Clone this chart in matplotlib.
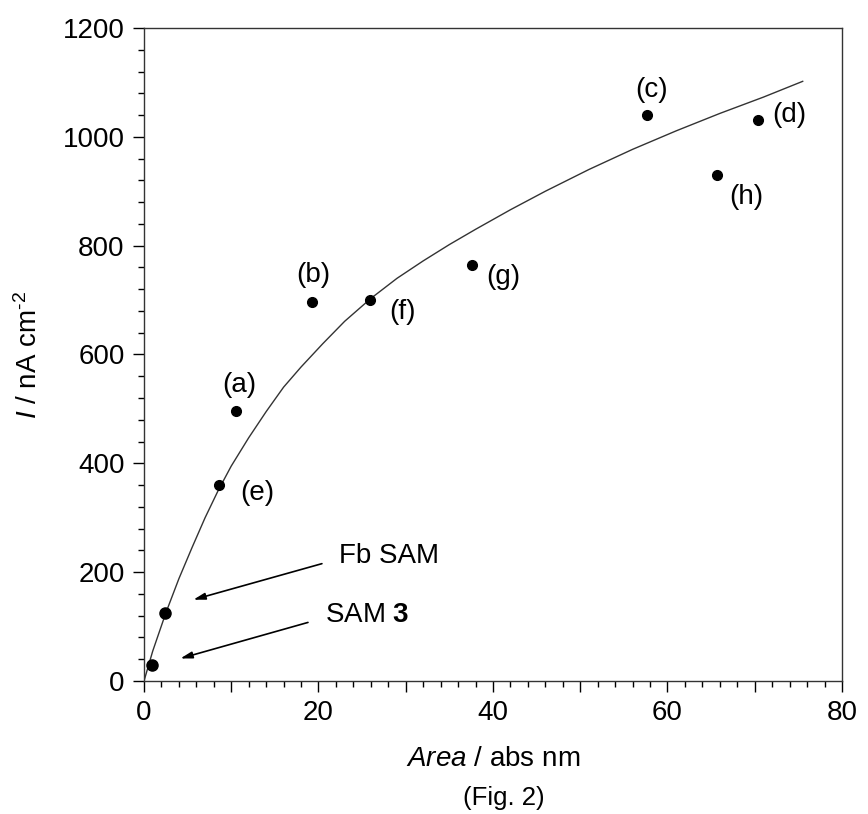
import matplotlib
matplotlib.use('Agg')
import matplotlib.pyplot as plt
from matplotlib.ticker import MultipleLocator, FuncFormatter

plt.rcParams['font.family'] = ['Liberation Sans', 'DejaVu Sans']
plt.rcParams['mathtext.fontset'] = 'custom'
plt.rcParams['mathtext.rm'] = 'Liberation Sans'
plt.rcParams['mathtext.it'] = 'Liberation Sans:italic'
plt.rcParams['mathtext.bf'] = 'Liberation Sans:bold'

# measured points
area = [10.6, 19.3, 57.6, 70.4, 8.6, 25.9, 37.6, 65.7]
current = [497, 697, 1040, 1031, 360, 700, 764, 930]
names = ['(a)', '(b)', '(c)', '(d)', '(e)', '(f)', '(g)', '(h)']
# label offsets in pixels (right, up)
offsets = [(3, 26), (1, 27), (5, 25), (31, 5), (38, -8), (33, -12), (31, -12), (29, -22)]

# SAM points
sam_area = [0.9, 2.4]
sam_current = [29, 125]

# fitted curve
fit_area = [0, 1, 2.5, 4, 5.5, 7, 8.5, 10, 12, 14, 16, 18, 20.5, 23, 26, 29, 32,
            35, 38, 42, 46, 51, 56, 61, 66, 71, 75.5]
fit_current = [0, 55, 125, 188, 245, 300, 350, 395, 447, 495, 540, 577, 620, 661, 703,
               740, 772, 802, 830, 866, 900, 940, 977, 1011, 1043, 1073, 1102]

fig = plt.figure(figsize=(8.68, 8.14), dpi=100)
ax = fig.add_axes([0.1659, 0.1634, 0.8041, 0.8022])

ax.plot(fit_area, fit_current, '-', color='#333333', lw=1)
ax.plot(area, current, 'o', color='black', markersize=7)
ax.plot(sam_area, sam_current, 'o', color='black', markersize=8)

for x, y, s, off in zip(area, current, names, offsets):
    ax.annotate(s, (x, y), xytext=off, textcoords='offset pixels',
                ha='center', va='center', fontsize=20)

ax.annotate('', xy=(5.35, 148), xytext=(20.7, 217),
            arrowprops=dict(arrowstyle='-|>,head_length=0.7,head_width=0.2', color='black', lw=1.2))
ax.text(22.3, 229, 'Fb SAM', fontsize=20, ha='left', va='center')
ax.annotate('', xy=(3.86, 40), xytext=(19.1, 109),
            arrowprops=dict(arrowstyle='-|>,head_length=0.7,head_width=0.2', color='black', lw=1.2))
ax.text(20.7, 121, r'SAM $\mathbf{3}$', fontsize=20, ha='left', va='center')

ax.set_xlim(0, 80)
ax.set_ylim(0, 1200)
ax.xaxis.set_major_locator(MultipleLocator(10))
ax.xaxis.set_minor_locator(MultipleLocator(2))
ax.xaxis.set_major_formatter(FuncFormatter(lambda v, p: '%d' % v if v % 20 == 0 else ''))
ax.yaxis.set_major_locator(MultipleLocator(200))
ax.yaxis.set_minor_locator(MultipleLocator(40))
ax.tick_params(which='both', direction='out', top=False, right=False, labelsize=20, width=1)
ax.tick_params(which='major', length=8, pad=6)
ax.tick_params(which='minor', length=4.5)
for sp in ax.spines.values():
    sp.set_linewidth(1)
    sp.set_color('#333333')

ax.set_xlabel(r'$\mathit{Area}$ / abs nm', fontsize=20, labelpad=14)
ax.set_ylabel(r'$\mathit{I}$ / nA cm$^{\text{-2}}$', fontsize=20, labelpad=14)
fig.text(504 / 868, 1 - 798 / 814, '(Fig. 2)', fontsize=18.5, ha='center', va='center')

fig.savefig('out.png', dpi=100)
